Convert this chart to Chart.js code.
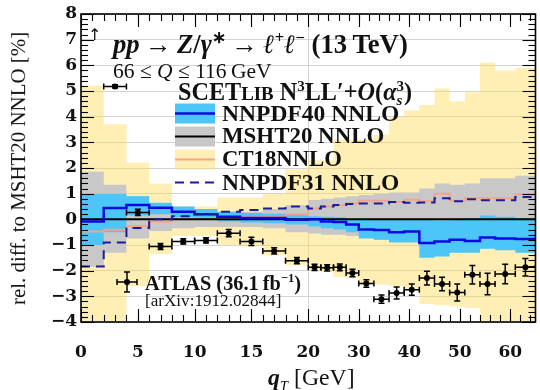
<!DOCTYPE html>
<html><head><meta charset="utf-8">
<script src="https://cdn.jsdelivr.net/npm/chart.js@4.4.1/dist/chart.umd.min.js"></script>
<style>
html,body{margin:0;padding:0;background:#fff;}
#wrap{position:relative;width:540px;height:390px;overflow:hidden;background:#fff;}
canvas{position:absolute;left:0;top:0;}
.t{position:absolute;left:0;top:0;white-space:nowrap;font-family:'Liberation Serif',serif;color:#111;line-height:1;font-size:18px;}
.t sup,.t sub{font-size:0.62em;line-height:0;}
.b{font-weight:bold;}
.ss{display:inline-block;vertical-align:-0.35em;font-size:0.62em;line-height:0.95;text-align:left;}
.ss span{display:block;}
.sc{font-size:0.78em;}
</style></head><body>
<div id="wrap">
<canvas id="c" width="540" height="390"></canvas>
<div class="t fit" data-x="88" data-cy="35" style="font-family:'DejaVu Sans';font-size:16px">↑</div>
<div class="t fit b" data-x="113" data-cy="44" data-w="295"><i>pp</i>&thinsp;→&thinsp;<i>Z</i>/<i>γ</i><sup>∗</sup>&thinsp;→&thinsp;<i>ℓ</i><sup>+</sup><i>ℓ</i><sup>−</sup> (13&thinsp;TeV)</div>
<div class="t fit" data-x="113" data-cy="72" data-w="159">66 ≤ <i>Q</i> ≤ 116&thinsp;GeV</div>
<div class="t fit b" data-x="178" data-cy="93" data-w="234">SCET<span class="sc">LIB</span> N<sup>3</sup>LL′+<i>O</i>(<i>α</i><span class="ss"><span>3</span><span><i>s</i></span></span>)</div>
<div class="t fit b" data-x="222" data-cy="113.5" data-w="178">NNPDF40 NNLO</div>
<div class="t fit b" data-x="222" data-cy="136.5" data-w="163">MSHT20 NNLO</div>
<div class="t fit b" data-x="222" data-cy="159.5" data-w="120">CT18NNLO</div>
<div class="t fit b" data-x="222" data-cy="182.5" data-w="178">NNPDF31 NNLO</div>
<div class="t fit b" data-x="145" data-cy="283" data-w="156">ATLAS (36.1&thinsp;fb<sup>−1</sup>)</div>
<div class="t fit" data-x="145" data-cy="300" data-w="136">[arXiv:1912.02844]</div>
<div class="t fit" data-x="18" data-cy="168" data-w="273" data-rot="1">rel. diff. to MSHT20 NNLO [%]</div>
<div class="t fit" data-x="268" data-cy="378" data-w="87"><b><i>q</i></b><sub><i>T</i></sub> [GeV]</div>
</div>
<script>
// ---------------- data ----------------
const binEdges = [0,2,4,6,8,10,12,14,16,18,20,22.5,25,27.5,30,33,36,39,42,45,48,51,54,57,61,65];
const xTickValues = [0,5,10,15,20,30,40,50,60];
const yMin = -4, yMax = 8;

// ATLAS data (first bin off-scale, shown with arrow)
const atlasVals = [null,5.18,0.27,-1.06,-0.86,-0.82,-0.54,-0.86,-1.23,-1.61,-1.87,-1.89,-1.87,-2.09,-2.50,-3.11,-2.87,-2.74,-2.29,-2.52,-2.85,-2.16,-2.52,-2.13,-1.87];
const atlasErr  = [null,0.06,0.12,0.12,0.10,0.10,0.14,0.16,0.12,0.12,0.12,0.12,0.13,0.15,0.15,0.16,0.23,0.22,0.27,0.26,0.33,0.36,0.42,0.38,0.34];

// CT18NNLO band + central
const ct18Hi  = [5.2,3.7,2.2,1.4,0.5,0.5,0.85,0.85,1.0,1.95,2.3,2.3,3.1,3.1,3.1,3.3,4.0,4.25,4.45,5.1,4.6,4.95,6.1,5.8,5.9];
const ct18Lo  = [-5,-5,-2.6,-1.35,-0.65,-0.65,-1.0,-1.05,-1.4,-1.8,-2.0,-2.05,-2.25,-2.3,-2.55,-2.55,-2.6,-2.7,-3.3,-3.35,-3.4,-3.45,-5,-5,-5];
const ct18Mid = [-0.47,-0.41,-0.26,-0.08,0.0,0.02,0.05,0.08,0.1,0.2,0.42,0.5,0.55,0.63,0.72,0.72,0.68,0.76,0.7,1.0,0.72,0.82,0.82,0.82,0.98];

// MSHT20 NNLO band + central (reference = 0)
const mshtHi  = [1.85,1.35,0.9,0.5,0.35,0.3,0.3,0.3,0.4,0.55,0.75,0.8,0.85,0.9,0.95,1.0,1.05,1.05,1.2,1.4,1.35,1.4,1.6,1.6,1.7];
const mshtLo  = [-1.85,-1.3,-0.75,-0.45,-0.35,-0.3,-0.3,-0.3,-0.35,-0.5,-0.55,-0.6,-0.6,-0.65,-0.7,-0.8,-0.85,-0.85,-0.9,-1.0,-0.95,-1.0,-1.1,-1.1,-1.15];
const mshtMid = [0,0,0,0,0,0,0,0,0,0,0,0,0,0,0,0,0,0,0,0,0,0,0,0,0];

// NNPDF40 NNLO band + central
const nn40Hi  = [1.0,1.0,0.9,0.65,0.5,0.4,0.3,0.25,0.22,0.2,0.12,0.1,0.08,0.02,0.0,0.0,0.0,0.0,0.0,-0.05,0.0,0.05,0.15,0.1,0.05];
const nn40Lo  = [-1.0,-0.5,0.15,0.2,0.08,0.0,-0.08,-0.12,-0.15,-0.2,-0.28,-0.35,-0.4,-0.5,-0.75,-0.8,-0.9,-0.9,-1.5,-1.45,-1.3,-1.3,-1.15,-1.2,-1.3];
const nn40Mid = [-0.08,0.44,0.56,0.45,0.3,0.2,0.1,0.05,0.05,-0.02,0.0,-0.08,-0.1,-0.2,-0.4,-0.42,-0.5,-0.47,-0.92,-0.86,-0.8,-0.84,-0.71,-0.75,-0.77];

// NNPDF31 NNLO central
const nn31Mid = [-1.84,-0.9,-0.34,0.0,0.12,0.2,0.3,0.36,0.42,0.5,0.42,0.5,0.56,0.6,0.62,0.62,0.68,0.65,0.66,0.82,0.7,0.78,0.74,0.74,0.87];

// ---------------- colours ----------------
const C = {
  yellow:'rgba(255,220,90,0.45)', gray:'#c8c8c8', blueBand:'#4cc6f8',
  blue:'#0a0ae0', black:'#000000', salmon:'#f4a48a', navy:'#1c1c9c', grid:'#d4d4d4'
};

// piecewise axis: [0,20] and [20,65] each take half the width
const u  = q => q <= 20 ? q : 20 + (q - 20) * 20 / 45;
const uInv = v => v <= 20 ? v : 20 + (v - 20) * 45 / 20;

function stepPoints(vals){
  const pts = [];
  vals.forEach((v,i)=>{
    if (v == null){ pts.push({x:u(binEdges[i]), y:null}); return; }
    pts.push({x:u(binEdges[i]), y:v}, {x:u(binEdges[i+1]), y:v});
  });
  return pts;
}
const hErr = [], vErr = [], pts = [];
atlasVals.forEach((v,i)=>{
  if (v == null) return;
  const lo = binEdges[i], hi = binEdges[i+1], c = (lo+hi)/2, e = atlasErr[i];
  hErr.push({x:u(lo), y:v}, {x:u(hi), y:v}, {x:u(hi), y:null});
  vErr.push({x:u(c), y:v-e}, {x:u(c), y:v+e}, {x:u(c), y:null});
  pts.push({x:u(c), y:v});
});

function band(vals, color, fill, order){
  return {data:stepPoints(vals), borderWidth:0, pointRadius:0, backgroundColor:color,
          fill: fill ? '+1' : false, order, tension:0};
}
function line(vals, color, width, order, dash){
  return {data:stepPoints(vals), borderColor:color, borderWidth:width, pointRadius:0,
          fill:false, order, tension:0, borderDash:dash||[], borderCapStyle:'butt', borderJoinStyle:'miter'};
}

const decor = {
  id:'decor',
  afterDraw(chart){
    const {ctx, chartArea:a, scales:{x, y}} = chart;
    ctx.save();
    ctx.strokeStyle = '#000'; ctx.lineWidth = 1.1;
    const seg = (x1,y1,x2,y2)=>{ctx.beginPath();ctx.moveTo(x1,y1);ctx.lineTo(x2,y2);ctx.stroke();};
    for (let k = yMin*5; k <= yMax*5; k++){
      const py = Math.round(y.getPixelForValue(k/5)) + 0.5;
      const L = (k % 5 === 0) ? 13 : 7;
      seg(a.left, py, a.left + L, py); seg(a.right, py, a.right - L, py);
    }
    const minors = [];
    for (let q = 1; q < 20; q++) minors.push(q);
    for (let q = 22; q < 65; q += 2) minors.push(q);
    const drawX = (q, L)=>{
      const px = Math.round(x.getPixelForValue(u(q))) + 0.5;
      seg(px, a.bottom, px, a.bottom - L); seg(px, a.top, px, a.top + L);
    };
    minors.forEach(q => drawX(q, 7));
    xTickValues.forEach(q => drawX(q, 13));
    ctx.lineWidth = 1.6;
    ctx.strokeRect(a.left, a.top, a.right - a.left, a.bottom - a.top);

    // legend swatches
    const sx0 = 175, sx1 = 215, rows = [113.5,136.5,159.5,182.5], h = 20;
    const sw = (i, fillC, lineC, lw, dash)=>{
      if (fillC){ ctx.fillStyle = fillC; ctx.fillRect(sx0, rows[i]-h/2, sx1-sx0, h); }
      ctx.strokeStyle = lineC; ctx.lineWidth = lw; ctx.setLineDash(dash||[]);
      seg(sx0, rows[i], sx1, rows[i]); ctx.setLineDash([]);
    };
    sw(0, C.blueBand, C.blue, 2.5);
    sw(1, C.gray, C.black, 2);
    sw(2, C.yellow, C.salmon, 2);
    sw(3, null, C.navy, 2, [9,6]);
    // ATLAS legend glyph
    ctx.strokeStyle = '#000'; ctx.lineWidth = 1.5;
    const gx = 127, gy = 282;
    seg(gx-10, gy, gx+10, gy); seg(gx-10, gy-3, gx-10, gy+3); seg(gx+10, gy-3, gx+10, gy+3);
    seg(gx, gy-10, gx, gy+10); seg(gx-3, gy-10, gx+3, gy-10); seg(gx-3, gy+10, gx+3, gy+10);
    ctx.fillStyle = '#000'; ctx.beginPath(); ctx.arc(gx, gy, 3, 0, Math.PI*2); ctx.fill();
    ctx.restore();
  }
};

new Chart(document.getElementById('c'), {
  type:'line',
  data:{datasets:[
    band(ct18Hi, C.yellow, true, 20),
    band(ct18Lo, C.yellow, false, 19),
    band(mshtHi, C.gray, true, 18),
    band(mshtLo, C.gray, false, 17),
    band(nn40Hi, C.blueBand, true, 16),
    band(nn40Lo, C.blueBand, false, 15),
    line(ct18Mid, C.salmon, 2, 8),
    line(mshtMid, C.black, 2, 7),
    line(nn40Mid, C.blue, 2.5, 6),
    line(nn31Mid, C.navy, 2, 5, [9,6]),
    {data:hErr, borderColor:'#000', borderWidth:1.5, pointStyle:'line', rotation:90, pointRadius:3,
     pointBorderColor:'#000', pointBorderWidth:1.5, pointHoverRadius:3, fill:false, order:3, spanGaps:false},
    {data:vErr, borderColor:'#000', borderWidth:1.5, pointStyle:'line', rotation:0, pointRadius:3,
     pointBorderColor:'#000', pointBorderWidth:1.5, pointHoverRadius:3, fill:false, order:2, spanGaps:false},
    {data:pts, showLine:false, pointStyle:'circle', pointRadius:3, pointBackgroundColor:'#000',
     pointBorderColor:'#000', pointBorderWidth:0, fill:false, order:1}
  ]},
  options:{
    responsive:false, animation:false, devicePixelRatio:1, events:[],
    layout:{padding:{left:0, right:1, top:14, bottom:0}},
    plugins:{legend:{display:false}, tooltip:{enabled:false}},
    scales:{
      x:{type:'linear', min:0, max:u(65),
        afterBuildTicks(s){ s.ticks = xTickValues.map(q => ({value:u(q)})); },
        afterFit(s){ s.height = 68; s.paddingLeft = 0; s.paddingRight = 0; },
        ticks:{autoSkip:false, maxRotation:0, padding:20, color:'#111',
          font:{family:'DejaVu Serif', weight:'bold', size:17},
          callback:(v)=> String(Math.round(uInv(v)))},
        grid:{drawTicks:false, lineWidth:1,
          color:(c)=> (c.tick && Math.abs(c.tick.value - u(20)) < 1e-6) ? C.grid : 'rgba(0,0,0,0)'},
        border:{display:false}
      },
      y:{type:'linear', min:yMin, max:yMax,
        afterFit(s){ s.width = 81; s.paddingTop = 0; s.paddingBottom = 0; },
        ticks:{stepSize:1, padding:4, color:'#111',
          font:{family:'DejaVu Serif', weight:'bold', size:17},
          callback:(v)=> (v < 0 ? '\u2212' : '') + Math.abs(v)},
        grid:{drawTicks:false, color:C.grid, lineWidth:1},
        border:{display:false}
      }
    }
  },
  plugins:[decor]
});

// fit overlay texts to the reference's widths and positions
document.querySelectorAll('.fit').forEach(el=>{
  const w = +el.dataset.w;
  if (w){
    const fs = parseFloat(getComputedStyle(el).fontSize);
    const nw = el.offsetWidth;
    el.style.fontSize = (fs * w / nw) + 'px';
  }
  const x = +el.dataset.x, cy = +el.dataset.cy;
  const W = el.offsetWidth, H = el.offsetHeight;
  if (el.dataset.rot){
    el.style.left = (x - W/2) + 'px'; el.style.top = (cy - H/2) + 'px';
    el.style.transform = 'rotate(-90deg)';
  } else {
    el.style.left = x + 'px'; el.style.top = (cy - H/2) + 'px';
  }
});
</script>
</body></html>
